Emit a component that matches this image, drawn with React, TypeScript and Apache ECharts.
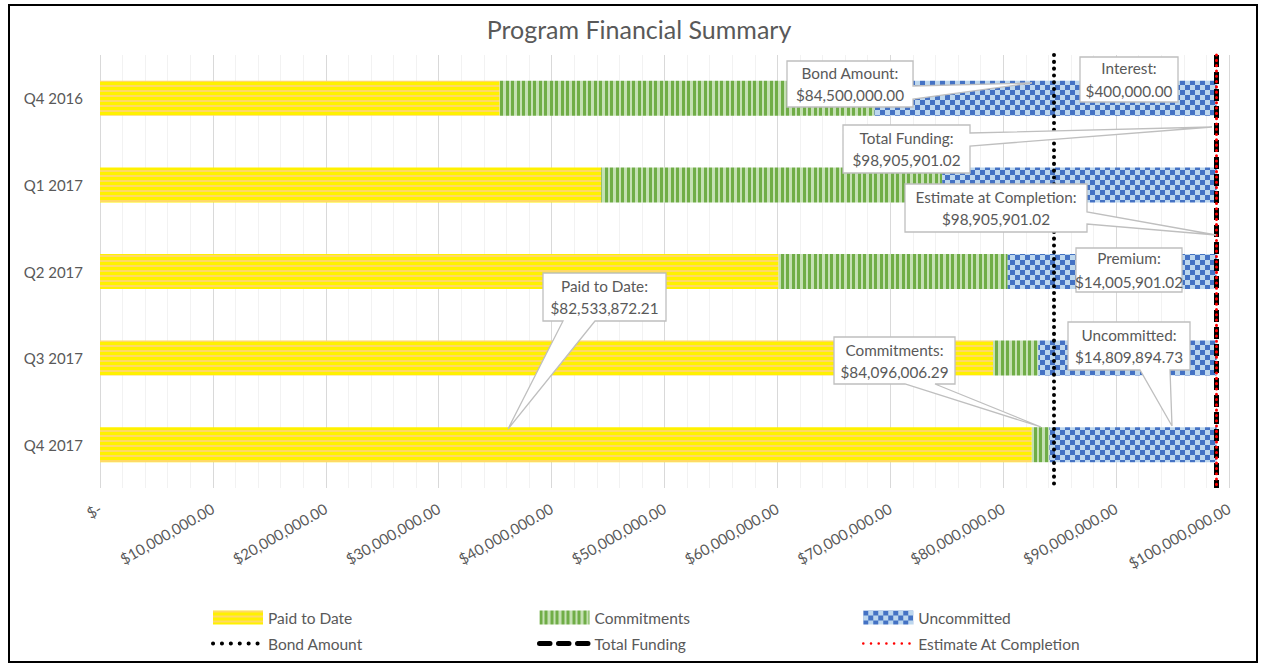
import React, { useEffect, useRef } from 'react';
import * as echarts from 'echarts';

// ---------- data ----------
const categories = ['Q4 2016', 'Q1 2017', 'Q2 2017', 'Q3 2017', 'Q4 2017'];
const paidToDate = [35400000, 44400000, 60100000, 79100000, 82533872.21];
const commitments = [33200000, 30200000, 20300000, 4000000, 1562134.08];
const uncommitted = [30305901.02, 24305901.02, 18505901.02, 15805901.02, 14809894.73];
const bondAmount = 84500000;
const totalFunding = 98905901.02;
const estimateAtCompletion = 98905901.02;
const interest = 400000;
const premium = 14005901.02;
const axisMin = 0;
const axisMax = 100000000;
const axisInterval = 10000000;

const FONT = 'Lato, "Noto Sans", sans-serif';
const TXT = '#595959';

const money = (v: number) =>
  '$' + v.toLocaleString('en-US', { minimumFractionDigits: 2, maximumFractionDigits: 2 });

function makePattern(w: number, h: number, draw: (ctx: CanvasRenderingContext2D) => void) {
  const c = document.createElement('canvas');
  c.width = w;
  c.height = h;
  const ctx = c.getContext('2d') as CanvasRenderingContext2D;
  draw(ctx);
  return { image: c.toDataURL(), repeat: 'repeat', imageWidth: w, imageHeight: h } as any;
}

// callout layout (annotation boxes)
type Callout = {
  title: string;
  value: number;
  box: [number, number, number, number];
  side: 'right' | 'bottom' | 'none';
  base?: [number, number];
  tip?: [number, number];
  lineHeight: number;
};

export default function App() {
  const ref = useRef<HTMLDivElement>(null);

  useEffect(() => {
    if (!ref.current) return;
    const chart = echarts.init(ref.current, undefined, { renderer: 'svg' });

    const yellowPattern = makePattern(5, 5, (ctx) => {
      ctx.fillStyle = '#FFD966';
      ctx.fillRect(0, 0, 5, 5);
      ctx.fillStyle = '#FFF100';
      ctx.fillRect(0, 2, 5, 3);
    });
    const greenPattern = makePattern(11, 5, (ctx) => {
      ctx.fillStyle = '#C5E0B4';
      ctx.fillRect(0, 0, 11, 5);
      ctx.fillStyle = '#70AD47';
      ctx.fillRect(0, 0, 3, 5);
      ctx.fillRect(5, 0, 3, 5);
    });
    const bluePattern = makePattern(10, 10, (ctx) => {
      ctx.fillStyle = '#BDD7EE';
      ctx.fillRect(0, 0, 10, 10);
      ctx.fillStyle = '#4472C4';
      ctx.fillRect(0, 0, 5, 5);
      ctx.fillRect(5, 5, 5, 5);
    });

    const callouts: Callout[] = [
      { title: 'Bond Amount:', value: bondAmount, box: [787, 61, 126, 46], side: 'right', base: [86, 99], tip: [1032, 83], lineHeight: 22 },
      { title: 'Interest:', value: interest, box: [1080, 57, 98, 45], side: 'none', lineHeight: 23 },
      { title: 'Total Funding:', value: totalFunding, box: [843, 125, 127, 48], side: 'right', base: [133, 146], tip: [1212, 127], lineHeight: 22 },
      { title: 'Estimate at Completion:', value: estimateAtCompletion, box: [905, 184, 182, 48], side: 'right', base: [212, 224], tip: [1216, 235], lineHeight: 22 },
      { title: 'Premium:', value: premium, box: [1076, 248, 106, 44], side: 'none', lineHeight: 24 },
      { title: 'Paid to Date:', value: paidToDate[4], box: [543, 273, 123, 48], side: 'bottom', base: [563, 595], tip: [508, 429], lineHeight: 22 },
      { title: 'Commitments:', value: paidToDate[4] + commitments[4], box: [834, 337, 121, 47], side: 'bottom', base: [905, 935], tip: [1041, 427], lineHeight: 22 },
      { title: 'Uncommitted:', value: uncommitted[4], box: [1068, 322, 122, 48], side: 'bottom', base: [1140, 1170], tip: [1172, 426], lineHeight: 22 },
    ];

    const calloutGraphics: any[] = [];
    callouts.forEach((c) => {
      const [x, y, w, h] = c.box;
      let pts: number[][];
      if (c.side === 'right' && c.base && c.tip) {
        pts = [[x, y], [x + w, y], [x + w, c.base[0]], c.tip, [x + w, c.base[1]], [x + w, y + h], [x, y + h]];
      } else if (c.side === 'bottom' && c.base && c.tip) {
        pts = [[x, y], [x + w, y], [x + w, y + h], [c.base[1], y + h], c.tip, [c.base[0], y + h], [x, y + h]];
      } else {
        pts = [[x, y], [x + w, y], [x + w, y + h], [x, y + h]];
      }
      calloutGraphics.push({
        type: 'polygon',
        z: 100,
        shape: { points: pts },
        style: { fill: '#FFFFFF', stroke: '#BFBFBF', lineWidth: 1.3 },
        silent: true,
      });
      calloutGraphics.push({
        type: 'text',
        z: 101,
        x: x + w / 2,
        y: y + h / 2,
        style: {
          text: c.title + '\n' + money(c.value),
          align: 'center',
          verticalAlign: 'middle',
          fill: TXT,
          fontSize: 15.3,
          fontFamily: FONT,
          lineHeight: c.lineHeight,
        },
        silent: true,
      });
    });

    const barBase = {
      type: 'bar',
      stack: 'total',
      barWidth: 35,
      silent: true,
    };

    const hideSym = { opacity: 0 };
    const legendCommon = {
      orient: 'vertical',
      top: 609.5,
      padding: 0,
      itemWidth: 50,
      itemHeight: 14,
      itemGap: 10,
      selectedMode: false,
      textStyle: { color: TXT, fontSize: 15.5, fontFamily: FONT, lineHeight: 14 },
    };

    const option: any = {
      animation: false,
      backgroundColor: '#FFFFFF',
      title: {
        text: 'Program Financial Summary',
        left: 634,
        textAlign: 'center',
        top: 11,
        textStyle: { color: TXT, fontSize: 25, fontWeight: 'normal', fontFamily: FONT },
      },
      legend: [
        {
          ...legendCommon,
          left: 211,
          data: [
            { name: 'Paid to Date', icon: 'rect' },
            { name: 'Bond Amount', itemStyle: hideSym, lineStyle: { width: 4, type: [0.1, 8.8], cap: 'round' } },
          ],
        },
        {
          ...legendCommon,
          left: 537,
          data: [
            { name: 'Commitments', icon: 'rect' },
            { name: 'Total Funding', itemStyle: hideSym, lineStyle: { width: 5, type: [10.5, 8.5], cap: 'round' } },
          ],
        },
        {
          ...legendCommon,
          left: 862,
          data: [
            { name: 'Uncommitted', icon: 'rect' },
            { name: 'Estimate At Completion', itemStyle: hideSym, lineStyle: { width: 2.5, type: [0.1, 7.6], cap: 'round' } },
          ],
        },
      ],
      grid: { left: 100, right: 33, top: 55, bottom: 179, containLabel: false },
      xAxis: {
        type: 'value',
        min: axisMin,
        max: axisMax,
        interval: axisInterval,
        axisLine: { show: false },
        axisTick: { show: false },
        splitLine: { show: true, lineStyle: { color: '#D9D9D9', width: 1 } },
        minorTick: { show: false, splitNumber: 5 },
        minorSplitLine: { show: true, lineStyle: { color: '#F2F2F2', width: 1 } },
        axisLabel: {
          rotate: 30,
          margin: 19,
          color: TXT,
          fontSize: 15,
          fontFamily: FONT,
          formatter: (v: number) => (v === 0 ? '$-' : money(v)),
        },
      },
      yAxis: {
        type: 'category',
        data: categories,
        inverse: true,
        axisLine: { show: false },
        axisTick: { show: false },
        splitLine: { show: false },
        axisLabel: { color: TXT, fontSize: 15, fontFamily: FONT, margin: 17 },
      },
      series: [
        { ...barBase, name: 'Paid to Date', data: paidToDate, itemStyle: { color: yellowPattern } },
        { ...barBase, name: 'Commitments', data: commitments, itemStyle: { color: greenPattern } },
        { ...barBase, name: 'Uncommitted', data: uncommitted, itemStyle: { color: bluePattern } },
        {
          type: 'line',
          name: 'Bond Amount',
          data: [],
          symbol: 'none',
          z: 5,
          color: '#000000',
          lineStyle: { color: '#000000', width: 4, type: [0.1, 8.8], cap: 'round' },
          markLine: {
            silent: true,
            symbol: 'none',
            label: { show: false },
            lineStyle: { color: '#000000', width: 4, type: [0.1, 6.7], cap: 'round' },
            data: [{ xAxis: bondAmount }],
          },
        },
        {
          type: 'line',
          name: 'Total Funding',
          data: [],
          symbol: 'none',
          z: 6,
          color: '#000000',
          lineStyle: { color: '#000000', width: 5, type: [10.5, 8.5], cap: 'round' },
          markLine: {
            silent: true,
            symbol: 'none',
            label: { show: false },
            lineStyle: { color: '#000000', width: 5, type: [12, 5], cap: 'butt' },
            data: [{ xAxis: totalFunding }],
          },
        },
        {
          type: 'line',
          name: 'Estimate At Completion',
          data: [],
          symbol: 'none',
          z: 7,
          color: '#FF0000',
          lineStyle: { color: '#FF0000', width: 2.5, type: [0.1, 7.6], cap: 'round' },
          markLine: {
            silent: true,
            symbol: 'none',
            label: { show: false },
            lineStyle: { color: '#FF0000', width: 3, type: [0.1, 5.2], cap: 'round' },
            data: [{ xAxis: estimateAtCompletion }],
          },
        },
      ],
      graphic: [
        {
          type: 'rect',
          z: 200,
          shape: { x: 9, y: 5, width: 1248, height: 657 },
          style: { fill: 'none', stroke: '#000000', lineWidth: 2 },
          silent: true,
        },
        ...calloutGraphics,
      ],
    };

    chart.setOption(option);
    return () => chart.dispose();
  }, []);

  return (
    <div
      ref={ref}
      style={{ position: 'absolute', left: 0, top: 0, width: 1262, height: 667 }}
    />
  );
}
